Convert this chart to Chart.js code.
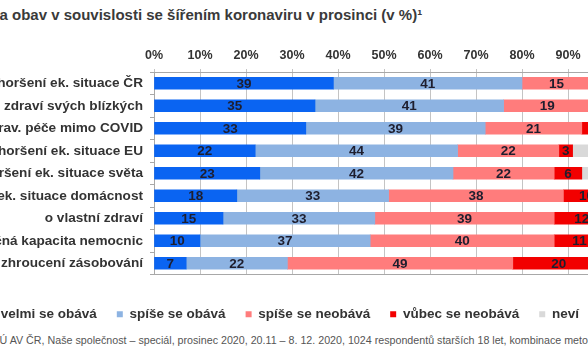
<!DOCTYPE html>
<html>
<head>
<meta charset="utf-8">
<script src="https://cdn.jsdelivr.net/npm/chart.js@4"></script>
<style>
  html, body { margin: 0; padding: 0; background: #fff; }
  #page { position: relative; width: 588px; height: 363px; overflow: hidden; font-family: "Liberation Sans", Arial, sans-serif; }
  #title { position: absolute; left: -23px; top: 6px; font-size: 15px; font-weight: bold; color: #3a3a3a; white-space: nowrap; }
  #footer { position: absolute; left: -80px; top: 334px; font-size: 10.7px; color: #555; white-space: nowrap; }
  #wrap { position: absolute; left: -70px; top: 0; }
</style>
</head>
<body>
<div id="page">
  <div id="title">Míra obav v souvislosti se šířením koronaviru v prosinci (v %)¹</div>
  <div id="wrap"><canvas id="chart" width="760" height="331"></canvas></div>
  <div id="footer">Zdroj: CVVM SOÚ AV ČR, Naše společnost – speciál, prosinec 2020, 20.11 – 8. 12. 2020, 1024 respondentů starších 18 let, kombinace metod CAPI a CAWI.</div>
</div>
<script>
// categories (top to bottom)
var categories = [
  "Zhoršení ek. situace ČR",
  "o zdraví svých blízkých",
  "zhoršení zdrav. péče mimo COVID",
  "Zhoršení ek. situace EU",
  "Zhoršení ek. situace světa",
  "ek. situace domácnost",
  "o vlastní zdraví",
  "nedostatečná kapacita nemocnic",
  "zhroucení zásobování"
];

// values in %
var velmiObava   = [39, 35, 33, 22, 23, 18, 15, 10, 7];
var spiseObava   = [41, 41, 39, 44, 42, 33, 33, 37, 22];
var spiseNeobava = [15, 19, 21, 22, 22, 38, 39, 40, 49];
var vubecNeobava = [3, 3, 5, 3, 6, 10, 12, 11, 20];
var nevi         = [2, 2, 2, 9, 7, 1, 1, 2, 2];

var xTicks = [0, 10, 20, 30, 40, 50, 60, 70, 80, 90, 100];

var FONT = '"Liberation Sans", Arial, sans-serif';

// draws the numbers in the middle of every segment
var segmentLabels = {
  id: 'segmentLabels',
  afterDatasetsDraw: function(chart) {
    var ctx = chart.ctx;
    ctx.save();
    ctx.font = 'bold 13.5px ' + FONT;
    ctx.fillStyle = '#1e1e2e';
    ctx.textAlign = 'center';
    ctx.textBaseline = 'middle';
    chart.data.datasets.forEach(function(ds, i) {
      var meta = chart.getDatasetMeta(i);
      meta.data.forEach(function(bar, j) {
        var v = ds.data[j];
        if (!v) return;
        ctx.fillText(v, (bar.x + bar.base) / 2, bar.y + 1);
      });
    });
    ctx.restore();
  }
};

var padL = 38;

new Chart(document.getElementById('chart'), {
  type: 'bar',
  data: {
    labels: categories,
    datasets: [
      { label: 'velmi se obává', data: velmiObava, backgroundColor: '#0a64f2' },
      { label: 'spíše se obává', data: spiseObava, backgroundColor: '#8db3e2' },
      { label: 'spíše se neobává', data: spiseNeobava, backgroundColor: '#ff7c7c' },
      { label: 'vůbec se neobává', data: vubecNeobava, backgroundColor: '#f20000' },
      { label: 'neví', data: nevi, backgroundColor: '#d9d9d9' }
    ]
  },
  options: {
    indexAxis: 'y',
    responsive: false,
    animation: false,
    layout: { padding: { left: padL, right: 76, top: 0, bottom: 0 } },
    datasets: { bar: { barThickness: 12, borderWidth: 0 } },
    scales: {
      x: {
        position: 'top',
        stacked: true,
        min: 0,
        max: 100,
        afterBuildTicks: function(scale) {
          scale.ticks = xTicks.map(function(v) { return { value: v }; });
        },
        afterFit: function(scale) { scale.height = 72; },
        grid: { color: '#c4c4c4', tickLength: 3 },
        border: { color: '#a8a8a8' },
        ticks: {
          padding: 6,
          color: '#333',
          font: { family: FONT, size: 12.5, weight: 'bold' },
          callback: function(v) { return v + '%'; }
        }
      },
      x2: {
        position: 'bottom',
        type: 'linear',
        min: 0,
        max: 100,
        afterFit: function(scale) { scale.height = 13; },
        grid: { display: false },
        border: { color: '#a8a8a8' },
        ticks: { display: false }
      },
      y: {
        stacked: true,
        afterFit: function(scale) { scale.width = 224 - padL; },
        grid: { drawOnChartArea: false, tickLength: 4, color: '#a8a8a8' },
        border: { color: '#a8a8a8' },
        ticks: {
          padding: 7,
          color: '#333',
          font: { family: FONT, size: 13.6, weight: 'bold' }
        }
      }
    },
    plugins: {
      legend: {
        position: 'bottom',
        align: 'start',
        labels: {
          boxWidth: 6,
          boxHeight: 6,
          padding: 20,
          color: '#333',
          font: { family: FONT, size: 13.5, weight: 'bold' }
        }
      },
      tooltip: { enabled: false }
    }
  },
  plugins: [segmentLabels]
});
</script>
</body>
</html>
